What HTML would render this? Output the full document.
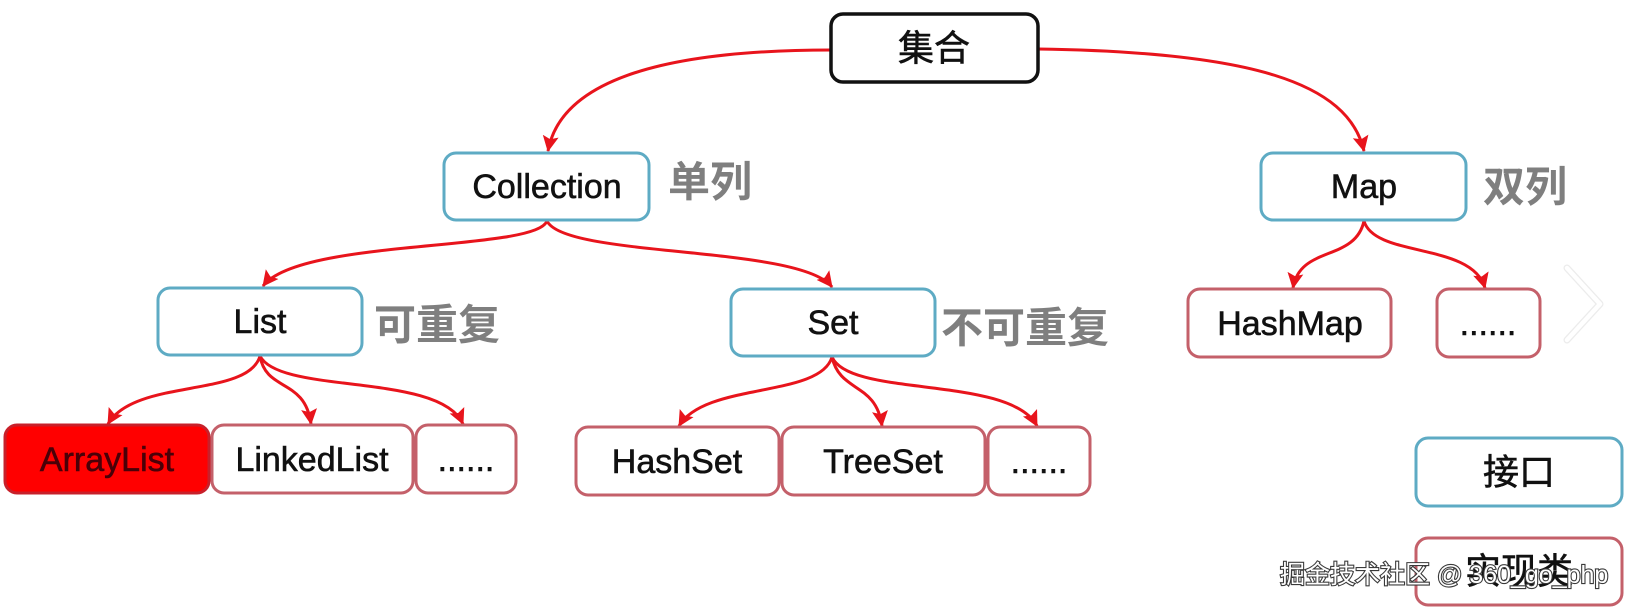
<!DOCTYPE html>
<html>
<head>
<meta charset="utf-8">
<style>
  html, body { margin: 0; padding: 0; background: #ffffff; }
  body { width: 1630px; height: 610px; overflow: hidden; }
  svg { display: block; }
  .lat { font-family: "Liberation Sans", "Noto Sans CJK SC", sans-serif; font-size: 34px; fill: #111111; stroke: #111111; stroke-width: 0.6px; }
  .cjk { font-family: "Liberation Sans", "Noto Sans CJK SC", sans-serif; font-size: 36px; fill: #111111; stroke: #111111; stroke-width: 0.6px; }
  .gray { font-family: "Liberation Sans", "Noto Sans CJK SC", sans-serif; font-size: 42px; font-weight: bold; fill: #7f7f7f; }
  .wm { font-family: "Liberation Sans", "Noto Sans CJK SC", sans-serif; font-size: 25px; fill: #ffffff; stroke: #3a3a3a; stroke-width: 2.2px; paint-order: stroke; }
</style>
</head>
<body>
<svg width="1630" height="610" viewBox="0 0 1630 610" xmlns="http://www.w3.org/2000/svg">
  <defs>
    <marker id="ah" markerUnits="userSpaceOnUse" markerWidth="18" markerHeight="18" refX="15" refY="8" orient="auto">
      <path d="M0,0 L16,8 L0,16 L3,8 z" fill="#e8141c"/>
    </marker>
  </defs>

  <!-- connectors -->
  <g fill="none" stroke="#e8141c" stroke-width="3" marker-end="url(#ah)">
    <path d="M831,50 C650,50 560,85 548,151"/>
    <path d="M1038,49 C1250,52 1348,82 1364,151"/>
    <path d="M547,221 C535,252 300,238 263,286"/>
    <path d="M547,221 C565,258 800,245 832,287"/>
    <path d="M260,356 C248,398 135,378 108,424"/>
    <path d="M260,356 C266,392 305,378 311,424"/>
    <path d="M260,356 C280,395 440,372 463,424"/>
    <path d="M832,357 C820,398 705,382 679,426"/>
    <path d="M832,357 C840,393 876,382 882,426"/>
    <path d="M832,357 C850,398 1010,375 1037,426"/>
    <path d="M1364,221 C1355,262 1300,245 1293,288"/>
    <path d="M1364,221 C1375,258 1472,242 1485,288"/>
  </g>

  <!-- root -->
  <rect x="831" y="14" width="207" height="68" rx="12" fill="#fff" stroke="#111" stroke-width="3.5"/>
  <text class="cjk" x="934" y="48" text-anchor="middle" dominant-baseline="central">集合</text>

  <!-- interfaces (teal) -->
  <g fill="#fff" stroke="#5eabc4" stroke-width="3">
    <rect x="444" y="153" width="205" height="67" rx="12"/>
    <rect x="1261" y="153" width="205" height="67" rx="12"/>
    <rect x="158" y="288" width="204" height="67" rx="12"/>
    <rect x="731" y="289" width="204" height="67" rx="12"/>
    <rect x="1416" y="438" width="206" height="68" rx="12"/>
  </g>

  <!-- implementations (red border) -->
  <g fill="#fff" stroke="#c4606a" stroke-width="3">
    <rect x="1188" y="289" width="203" height="68" rx="12"/>
    <rect x="1437" y="289" width="103" height="68" rx="12"/>
    <rect x="212" y="425" width="201" height="68" rx="12"/>
    <rect x="416" y="425" width="100" height="68" rx="12"/>
    <rect x="576" y="427" width="203" height="68" rx="12"/>
    <rect x="782" y="427" width="203" height="68" rx="12"/>
    <rect x="988" y="427" width="102" height="68" rx="12"/>
    <rect x="1416" y="538" width="206" height="67" rx="12"/>
  </g>
  <rect x="5" y="425" width="204" height="68" rx="12" fill="#ff0000" stroke="#c8202a" stroke-width="3"/>

  <!-- labels -->
  <text class="lat" x="547" y="187" text-anchor="middle" dominant-baseline="central">Collection</text>
  <text class="lat" x="1364" y="187" text-anchor="middle" dominant-baseline="central">Map</text>
  <text class="lat" x="260" y="322" text-anchor="middle" dominant-baseline="central">List</text>
  <text class="lat" x="833" y="323" text-anchor="middle" dominant-baseline="central">Set</text>
  <text class="lat" x="1290" y="324" text-anchor="middle" dominant-baseline="central">HashMap</text>
  <text class="lat" x="1488" y="324" text-anchor="middle" dominant-baseline="central">......</text>
  <text class="lat" x="107" y="460" text-anchor="middle" dominant-baseline="central" style="fill:#4a0008;stroke:#4a0008">ArrayList</text>
  <text class="lat" x="312" y="460" text-anchor="middle" dominant-baseline="central">LinkedList</text>
  <text class="lat" x="466" y="460" text-anchor="middle" dominant-baseline="central">......</text>
  <text class="lat" x="677" y="462" text-anchor="middle" dominant-baseline="central">HashSet</text>
  <text class="lat" x="883" y="462" text-anchor="middle" dominant-baseline="central">TreeSet</text>
  <text class="lat" x="1039" y="462" text-anchor="middle" dominant-baseline="central">......</text>
  <text class="cjk" x="1519" y="472" text-anchor="middle" dominant-baseline="central">接口</text>
  <text class="cjk" x="1519" y="571" text-anchor="middle" dominant-baseline="central">实现类</text>

  <!-- gray side labels -->
  <text class="gray" x="668" y="182" dominant-baseline="central">单列</text>
  <text class="gray" x="1483" y="187" dominant-baseline="central">双列</text>
  <text class="gray" x="374" y="325" dominant-baseline="central">可重复</text>
  <text class="gray" x="941" y="328" dominant-baseline="central">不可重复</text>

  <!-- chevron -->
  <polyline points="1567,268 1600,304 1567,340" fill="none" stroke="#ececec" stroke-width="7" stroke-linecap="round" stroke-linejoin="round"/>
  <polyline points="1567,268 1600,304 1567,340" fill="none" stroke="#ffffff" stroke-width="4.5" stroke-linecap="round" stroke-linejoin="round"/>

  <!-- watermark -->
  <text class="wm" x="1280" y="575" dominant-baseline="central">掘金技术社区 @ 360_go_php</text>
</svg>
</body>
</html>
